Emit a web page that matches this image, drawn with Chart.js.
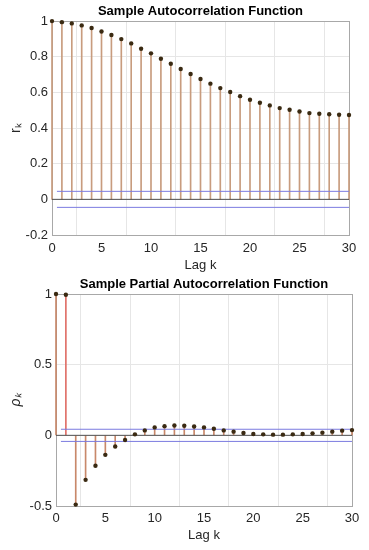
<!DOCTYPE html>
<html>
<head>
<meta charset="utf-8">
<script src="https://cdn.jsdelivr.net/npm/chart.js@4.4.0/dist/chart.umd.min.js"></script>
<style>
html,body{margin:0;padding:0;background:#fff;}
.wrap{position:absolute;left:0;width:369px;height:275px;}
#w1{top:0;} #w2{top:275px;}
</style>
</head>
<body>
<div class="wrap" id="w1"><canvas id="c1" width="369" height="275"></canvas></div>
<div class="wrap" id="w2"><canvas id="c2" width="369" height="275"></canvas></div>
<script>
const lags = [0,1,2,3,4,5,6,7,8,9,10,11,12,13,14,15,16,17,18,19,20,21,22,23,24,25,26,27,28,29,30];
const acfValues = [1.0,0.994,0.987,0.976,0.961,0.942,0.922,0.899,0.875,0.845,0.819,0.789,0.761,0.731,0.703,0.675,0.649,0.624,0.602,0.579,0.559,0.542,0.527,0.512,0.503,0.493,0.484,0.480,0.477,0.475,0.473];
const pacfValues = [1.0,0.995,-0.49,-0.315,-0.215,-0.138,-0.079,-0.033,0.007,0.035,0.056,0.065,0.070,0.068,0.063,0.056,0.047,0.035,0.026,0.016,0.009,0.007,0.005,0.005,0.007,0.009,0.014,0.019,0.026,0.033,0.037];
const acfBound = 0.045;
const pacfBound = 0.043;
const boundRange = [0.5, 30];
const xTickStep = 5;
const acfYRange = [-0.2, 1];
const pacfYRange = [-0.5, 1];

const FONT = "'Liberation Sans', Arial, Helvetica, sans-serif";
const TXT = '#262626';

const boxPlugin = {
  id: 'box',
  beforeDatasetsDraw(chart) {
    const a = chart.chartArea, ctx = chart.ctx;
    ctx.save();
    ctx.strokeStyle = '#a8a8a8';
    ctx.lineWidth = 1;
    ctx.strokeRect(Math.round(a.left) + 0.5, Math.round(a.top) + 0.5, Math.round(a.right - a.left), Math.round(a.bottom - a.top));
    ctx.restore();
  }
};

function makeChart(id, cfg) {
  const pts = lags.map((k, i) => ({x: k, y: cfg.values[i]}));
  const bound = (v) => boundRange.map(x => ({x: x, y: v}));
  return new Chart(document.getElementById(id), {
    data: {
      datasets: [
        {type: 'line', data: bound(cfg.bound), borderColor: '#7b7be0', borderWidth: 1, pointRadius: 0, order: 3, clip: false},
        {type: 'line', data: bound(-cfg.bound), borderColor: '#7b7be0', borderWidth: 1, pointRadius: 0, order: 3, clip: false},
        {type: 'line', data: [{x: 0, y: 0}, {x: 30, y: 0}], borderColor: '#505050', borderWidth: 1, pointRadius: 0, order: 2, clip: false},
        {type: 'bar', data: pts, backgroundColor: c => (cfg.redFirst && c.dataIndex === 1) ? '#e07068' : cfg.stemColor, barThickness: 1, order: 4, clip: false},
        {type: 'scatter', data: pts, pointRadius: 2.2, pointBackgroundColor: '#3a2a12', pointBorderColor: '#3a2a12', borderWidth: 0, order: 1, clip: false}
      ]
    },
    options: {
      responsive: false,
      animation: false,
      events: [],
      layout: {padding: {left: 0, right: cfg.padRight, top: 0, bottom: 0}},
      plugins: {
        legend: {display: false},
        tooltip: {enabled: false},
        title: {
          display: true, text: cfg.title, color: '#000', fullSize: false,
          font: {family: FONT, size: 13, weight: 'bold', lineHeight: 1.2},
          padding: {top: cfg.titleTop, bottom: cfg.titleBottom}
        }
      },
      scales: {
        x: {
          type: 'linear', min: 0, max: 30, offset: false,
          ticks: {stepSize: xTickStep, color: TXT, font: {family: FONT, size: 13}, padding: cfg.xTickPad, maxRotation: 0},
          grid: {color: '#e6e6e6', drawTicks: false},
          border: {display: false},
          title: {display: true, text: 'Lag k', color: TXT, font: {family: FONT, size: 13}, padding: {top: 1, bottom: cfg.xTitleBottom}},
          afterFit: s => { s.height = cfg.xHeight; }
        },
        y: {
          min: cfg.yRange[0], max: cfg.yRange[1],
          ticks: {stepSize: cfg.yStep, color: TXT, font: {family: FONT, size: 13}, padding: 4,
            callback: v => String(Number(v.toFixed(2)))},
          grid: {color: '#e6e6e6', drawTicks: false},
          border: {display: false},
          title: {display: true, text: cfg.yTitle, color: TXT, font: {family: FONT, size: 14, style: cfg.yStyle}, padding: {top: 8, bottom: 0}},
          afterFit: s => { s.width = cfg.yWidth; }
        }
      }
    },
    plugins: [boxPlugin]
  });
}

makeChart('c1', {
  values: acfValues, bound: acfBound, title: 'Sample Autocorrelation Function',
  yRange: acfYRange, yStep: 0.2, yTitle: 'r\u2096', yStyle: 'normal', redFirst: false,
  stemColor: '#c89c7e', padRight: 20, yWidth: 52, xHeight: 40, titleTop: 4, titleBottom: 1.5, xTickPad: 6, xTitleBottom: 2
});
makeChart('c2', {
  values: pacfValues, bound: pacfBound, title: 'Sample Partial Autocorrelation Function',
  yRange: pacfYRange, yStep: 0.5, yTitle: '\u03c1\u2096', yStyle: 'italic', redFirst: true,
  stemColor: '#c8886a', padRight: 17, yWidth: 56, xHeight: 44, titleTop: 2, titleBottom: 1.4, xTickPad: 5, xTitleBottom: 7
});
</script>
</body>
</html>
